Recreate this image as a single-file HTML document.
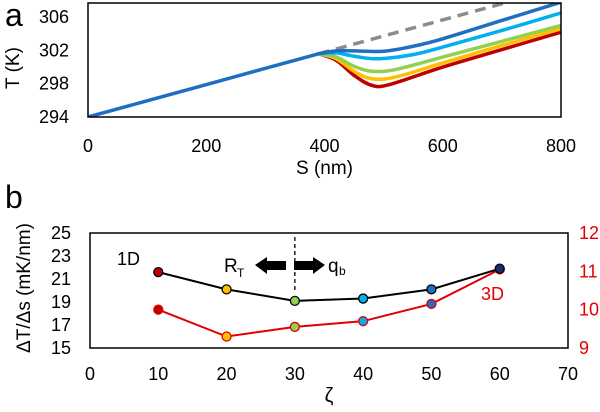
<!DOCTYPE html>
<html><head><meta charset="utf-8"><style>
body{margin:0;background:#fff;}
svg{display:block;font-family:"Liberation Sans",Arial,sans-serif;}
</style></head><body>
<svg id="c" width="600" height="412" viewBox="0 0 600 412">
<g id="pa"></g>
<g id="pb"></g>
</svg>
<script>
const NS='http://www.w3.org/2000/svg';
// Panel a data
const aXTicks=[0,200,400,600,800];
const aYTicks=[294,298,302,306];
const aBaseS=[0,390];
const aBaseT=[294,301.6];
const aDashS=[390,710];
const aDashT=[301.6,307.8];
const aColors=['#c00000','#ffc000','#92d050','#00b0f0','#1f6fc0'];
const sRed=[390,420,450,480,510,600,700,800];
const tRed=[301.6,300.8,299.0,297.8,297.9,300.0,302.1,304.2];
const sOrange=[390,420,450,480,520,600,700,800];
const tOrange=[301.6,301.0,299.5,298.6,298.8,300.5,302.6,304.6];
const sGreen=[390,420,450,480,520,600,700,800];
const tGreen=[301.6,301.2,300.1,299.5,299.7,301.2,303.1,305.0];
const sLBlue=[390,420,450,490,550,600,700,800];
const tLBlue=[301.6,301.7,301.3,301.0,301.5,302.4,304.4,306.5];
const sDBlue=[390,420,450,500,550,600,700,800];
const tDBlue=[301.6,301.95,301.95,301.9,302.5,303.4,305.6,307.8];
// Panel b data
const bX=[10,20,30,40,50,60];
const b1D=[21.6,20.1,19.1,19.3,20.1,21.9];
const b3D=[10.0,9.3,9.55,9.7,10.15,11.05];
const bXTicks=[0,10,20,30,40,50,60,70];
const bYTicks=[15,17,19,21,23,25];
const bY2Ticks=[9,10,11,12];
const bMarkerColors=['#c00000','#ffc000','#92d050','#00b0f0','#1f6fc0','#1a2a6c'];

function el(p,tag,at){const e=document.createElementNS(NS,tag);for(const k in at)e.setAttribute(k,at[k]);p.appendChild(e);return e;}
function txt(p,x,y,s,at){const e=el(p,'text',Object.assign({x:x,y:y},at||{}));e.textContent=s;return e;}
function smooth(P){let d='M'+P[0][0]+','+P[0][1];for(let i=0;i<P.length-1;i++){const p0=P[Math.max(i-1,0)],p1=P[i],p2=P[i+1],p3=P[Math.min(i+2,P.length-1)];
const c1=[p1[0]+(p2[0]-p0[0])/6,p1[1]+(p2[1]-p0[1])/6],c2=[p2[0]-(p3[0]-p1[0])/6,p2[1]-(p3[1]-p1[1])/6];
d+=' C'+c1[0]+','+c1[1]+' '+c2[0]+','+c2[1]+' '+p2[0]+','+p2[1];}return d;}

// ---- Panel a
const pa=document.getElementById('pa');
const AT=3,AB=117,AL=88,AR=561;
const ax=s=>AL+s/800*(AR-AL);
const ay=t=>AB-(t-294)/13.7*(AB-AT);
let e;
e=txt(pa,5,26,'a',{'font-size':32});

aYTicks.forEach(v=>{e=txt(pa,69,ay(v)+6,String(v),{'font-size':18,'text-anchor':'end'});
});
aXTicks.forEach(v=>{e=txt(pa,ax(v),152,String(v),{'font-size':18,'text-anchor':'middle'});
});
e=txt(pa,ax(400),174,'S (nm)',{'font-size':19,'text-anchor':'middle'});

e=txt(pa,0,0,'T (K)',{'font-size':19,'text-anchor':'middle',transform:'translate(19,68) rotate(-90)'});

const clip=el(document.getElementById('c'),'clipPath',{id:'ca'});
el(clip,'rect',{x:AL,y:AT,width:AR-AL,height:AB-AT});
const ga=el(pa,'g',{'clip-path':'url(#ca)'});
function pl(g,S,T,col,w,dash){const a={d:smooth(S.map((s,i)=>[ax(s),ay(T[i])])),fill:'none',stroke:col,'stroke-width':w,'stroke-linejoin':'round','stroke-linecap':'round'};if(dash){a['stroke-dasharray']=dash;a['stroke-linecap']='butt';}return el(g,'path',a);}
e=pl(ga,aDashS,aDashT,'#8c8c8c',3.5,'11,7');

const aS=[sRed,sOrange,sGreen,sLBlue,sDBlue],aT=[tRed,tOrange,tGreen,tLBlue,tDBlue];
const names=['series-red','series-orange','series-green','series-light-blue','series-dark-blue'];
aS.forEach((S,i)=>{e=pl(ga,S,aT[i],aColors[i],3.5);
});
e=pl(ga,aBaseS,aBaseT,'#1f6fc0',3.5);

e=el(pa,'rect',{x:AL,y:AT,width:AR-AL,height:AB-AT,fill:'none',stroke:'#000','stroke-width':1.5});


// ---- Panel b
const pb=document.getElementById('pb');
const BT=233,BB=348,BL=90,BR=568;
const bx=v=>BL+v/70*(BR-BL);
const by=v=>BB-(v-15)/10*(BB-BT);
const by2=v=>BB-(v-9)/3*(BB-BT);
e=txt(pb,5,208,'b',{'font-size':32});

bYTicks.forEach(v=>{e=txt(pb,71,by(v)+6,String(v),{'font-size':18,'text-anchor':'end'});
});
bY2Ticks.forEach(v=>{e=txt(pb,579,by2(v)+6,String(v),{'font-size':18,fill:'#e00000'});
});
bXTicks.forEach(v=>{e=txt(pb,bx(v),380,String(v),{'font-size':18,'text-anchor':'middle'});
});
e=txt(pb,bx(35),402,'ζ',{'font-size':20,'text-anchor':'middle'});

e=txt(pb,0,0,'ΔT/Δs (mK/nm)',{'font-size':19,'text-anchor':'middle',transform:'translate(30,288) rotate(-90)'});

e=el(pb,'rect',{x:BL,y:BT,width:BR-BL,height:BB-BT,fill:'none',stroke:'#000','stroke-width':1.5});

e=el(pb,'line',{x1:bx(30),y1:237,x2:bx(30),y2:290,stroke:'#000','stroke-width':1.3,'stroke-dasharray':'4,3'});

e=el(pb,'polygon',{points:'255,265 267,257 267,261 286,261 286,270 267,270 267,274',fill:'#000'});

e=el(pb,'polygon',{points:'325,265 313,257 313,261 294,261 294,270 313,270 313,274',fill:'#000'});

e=txt(pb,224,272,'R',{'font-size':19});

txt(pb,237,277,'T',{'font-size':12});
e=txt(pb,328,272,'q',{'font-size':19});

txt(pb,339,275,'b',{'font-size':12});
e=txt(pb,117,265,'1D',{'font-size':18});

e=txt(pb,481,300,'3D',{'font-size':18,fill:'#e00000'});

e=el(pb,'polyline',{points:bX.map((v,i)=>bx(v)+','+by2(b3D[i])).join(' '),fill:'none',stroke:'#e00000','stroke-width':2});

e=el(pb,'polyline',{points:bX.map((v,i)=>bx(v)+','+by(b1D[i])).join(' '),fill:'none',stroke:'#000','stroke-width':2});

bX.forEach((v,i)=>{
 e=el(pb,'circle',{cx:bx(v),cy:by2(b3D[i]),r:4.5,fill:bMarkerColors[i],stroke:'#e00000','stroke-width':1.3});
 
 e=el(pb,'circle',{cx:bx(v),cy:by(b1D[i]),r:4.5,fill:bMarkerColors[i],stroke:'#000','stroke-width':1.3});
 
});
</script>
</body></html>
